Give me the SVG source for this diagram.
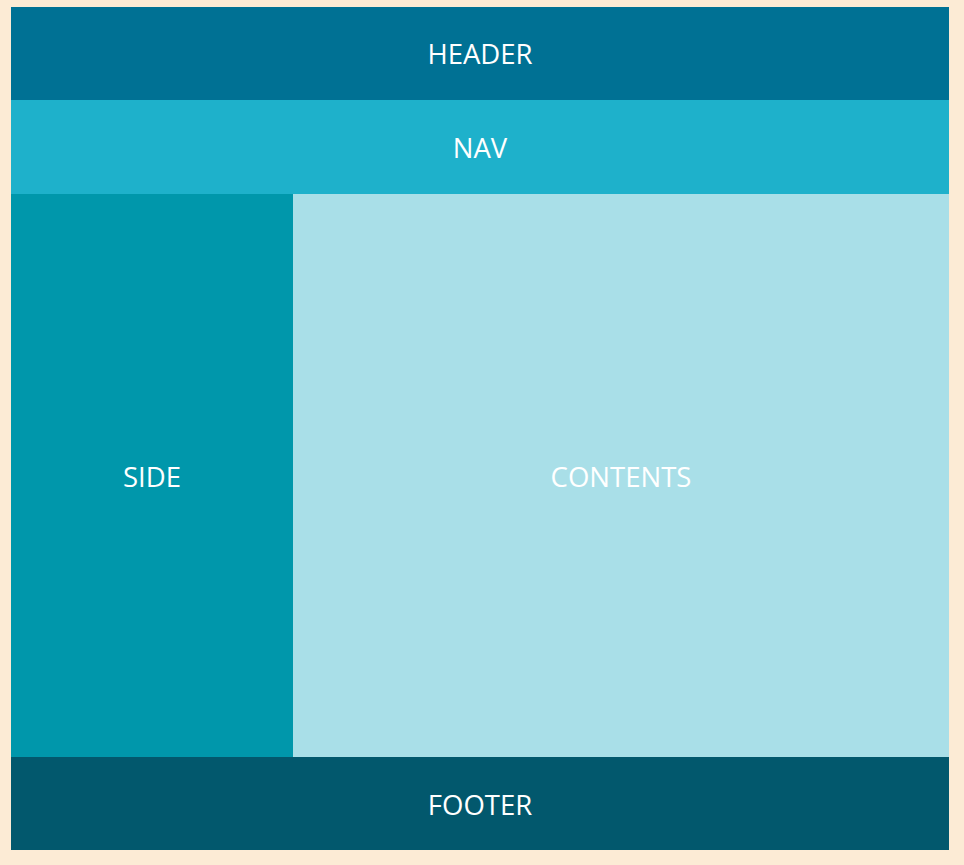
<svg xmlns="http://www.w3.org/2000/svg" width="964" height="865" viewBox="0 0 964 865">
<style>
.lbl{font-family:"Open Sans","Noto Sans","Liberation Sans",sans-serif;font-size:27.5px;fill:#ffffff;text-anchor:middle;dominant-baseline:central}
</style>
<rect x="0" y="0" width="964" height="865" fill="#FCEBD5"/>
<g id="header"><rect x="11" y="7" width="938" height="93" fill="#007194"/><text class="lbl" x="480" y="53">HEADER</text></g>
<g id="nav"><rect x="11" y="100" width="938" height="94" fill="#1EB1CB"/><text class="lbl" x="480" y="147">NAV</text></g>
<g id="side"><rect x="11" y="194" width="282" height="563" fill="#0097AB"/><text class="lbl" x="152" y="476">SIDE</text></g>
<g id="contents"><rect x="293" y="194" width="656" height="563" fill="#A9DFE8"/><text class="lbl" x="621" y="476">CONTENTS</text></g>
<g id="footer"><rect x="11" y="757" width="938" height="93" fill="#02586D"/><text class="lbl" x="480" y="804">FOOTER</text></g>
<g id="connectors"/>
</svg>
